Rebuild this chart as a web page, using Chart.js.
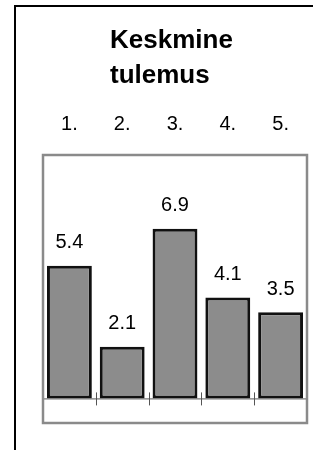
<!DOCTYPE html>
<html>
<head>
<meta charset="utf-8">
<script src="https://cdn.jsdelivr.net/npm/chart.js@4/dist/chart.umd.min.js"></script>
<style>
  html, body { margin: 0; padding: 0; background: #fff; overflow: hidden; }
  #wrap { position: relative; width: 313px; height: 450px; }
  #frame { position: absolute; left: 14px; top: 5px; width: 400px; height: 500px;
           border-left: 2px solid #000; border-top: 2px solid #000; }
  #title { position: absolute; left: 110px; top: 22px; margin: 0;
           font: bold 26px/35px "Liberation Sans", Arial, sans-serif; color: #000; }
  #box { position: absolute; left: 0; top: 0; width: 313px; height: 450px; }
</style>
</head>
<body>
<div id="wrap">
  <div id="frame"></div>
  <div id="box"><canvas id="chart"></canvas></div>
  <h1 id="title">Keskmine<br>tulemus</h1>
</div>
<script>
const categories = ['1.', '2.', '3.', '4.', '5.']
const values = [5.4, 2.1, 6.9, 4.1, 3.5]
const valueLabels = ['5.4', '2.1', '6.9', '4.1', '3.5']

const FONT = '"Liberation Sans", Arial, sans-serif'

// gray frame round the plot, zero line with category ticks, value labels
const decor = {
  id: 'decor',
  afterDatasetsDraw(chart) {
    const { ctx, chartArea: a, scales } = chart
    const y0 = scales.y.getPixelForValue(0)
    const step = (a.right - a.left) / categories.length
    ctx.save()
    ctx.strokeStyle = '#555'
    ctx.lineWidth = 1
    ctx.beginPath()
    ctx.moveTo(a.left, y0 + 0.5)
    ctx.lineTo(a.right, y0 + 0.5)
    for (let i = 0; i <= categories.length; i++) {
      const x = Math.round(a.left + i * step) + 0.5
      ctx.moveTo(x, y0 - 6)
      ctx.lineTo(x, y0 + 7)
    }
    ctx.stroke()

    ctx.strokeStyle = '#8a8a8a'
    ctx.lineWidth = 2.5
    ctx.strokeRect(a.left, a.top, a.right - a.left, a.bottom - a.top)

    ctx.fillStyle = '#000'
    ctx.font = '20px ' + FONT
    ctx.textAlign = 'center'
    ctx.textBaseline = 'middle'
    chart.getDatasetMeta(0).data.forEach((bar, i) => {
      ctx.fillText(valueLabels[i], bar.x, bar.y - 23)
    })
    ctx.restore()
  },
}

new Chart(document.getElementById('chart'), {
  type: 'bar',
  data: {
    labels: categories,
    datasets: [{
      data: values,
      backgroundColor: '#8c8c8c',
      borderColor: '#111',
      borderWidth: 3,
      borderSkipped: false,
      categoryPercentage: 1,
      barPercentage: 0.85,
    }],
  },
  options: {
    responsive: true,
    maintainAspectRatio: false,
    animation: false,
    layout: { padding: { top: 93, left: 43, right: 6, bottom: 27 } },
    plugins: {
      legend: { display: false },
      tooltip: { enabled: false },
    },
    scales: {
      x: {
        position: 'top',
        grid: { display: false, drawTicks: false },
        border: { display: false },
        ticks: { color: '#000', padding: 19, font: { size: 20, family: FONT } },
      },
      y: {
        display: false,
        min: -1,
        max: 9.9,
      },
    },
  },
  plugins: [decor],
})
</script>
</body>
</html>
